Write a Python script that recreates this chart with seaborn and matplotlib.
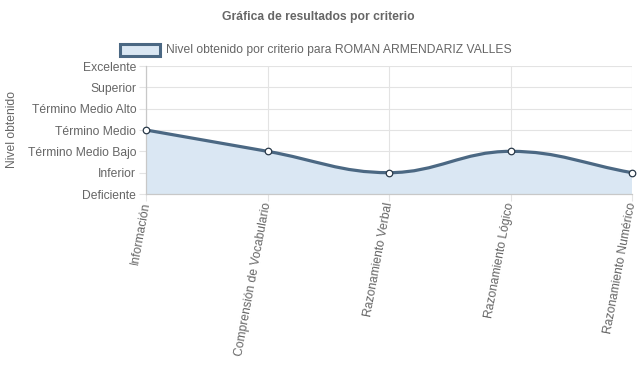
import matplotlib
matplotlib.use("Agg")
import matplotlib.pyplot as plt
from matplotlib.path import Path
from matplotlib.patches import PathPatch, Rectangle
import numpy as np
import pandas as pd
import seaborn as sns

categories = ["Información", "Comprensión de Vocabulario", "Razonamiento Verbal",
              "Razonamiento Lógico", "Razonamiento Numérico"]
levels = ["Deficiente", "Inferior", "Término Medio Bajo", "Término Medio",
          "Término Medio Alto", "Superior", "Excelente"]
values = [3, 2, 1, 2, 1]
series_name = "Nivel obtenido por criterio para ROMAN ARMENDARIZ VALLES"
title = "Gráfica de resultados por criterio"
ylabel = "Nivel obtenido"

sns.set_theme(style="white")
plt.rcParams['font.family'] = ['Liberation Sans', 'DejaVu Sans']

W, H = 637, 389
fig = plt.figure(figsize=(W / 100, H / 100), dpi=100)
x0, x1, yt, yb = 146, 632, 66, 194
ax = fig.add_axes([x0 / W, 1 - yb / H, (x1 - x0) / W, (yb - yt) / H])

line_c = "#4b6883"
fill_c = "#dae7f3"
grid_c = "#e3e3e3"
txt_c = "#666666"

df = pd.DataFrame({"x": np.arange(len(categories)), "y": values})
ax.set_xlim(0, len(categories) - 1)
ax.set_ylim(0, len(levels) - 1)

# Chart.js style bezier spline (tension 0.4) in pixel space
fig.canvas.draw()
pts = ax.transData.transform(np.column_stack([df["x"], df["y"]]).astype(float))
t = 0.4
n = len(pts)
cps_prev, cps_next = [], []
for i in range(n):
    p = pts[i - 1] if i > 0 else pts[i]
    c = pts[i]
    nx = pts[i + 1] if i < n - 1 else pts[i]
    d01 = np.hypot(*(c - p))
    d12 = np.hypot(*(nx - c))
    tot = d01 + d12
    s01 = d01 / tot if tot else 0
    s12 = d12 / tot if tot else 0
    fa, fb = t * s01, t * s12
    cps_prev.append(c - fa * (nx - p))
    cps_next.append(c + fb * (nx - p))
verts = [pts[0]]
codes = [Path.MOVETO]
for i in range(n - 1):
    verts += [cps_next[i], cps_prev[i + 1], pts[i + 1]]
    codes += [Path.CURVE4] * 3
inv = ax.transData.inverted()
verts_d = inv.transform(np.array(verts))
curve = Path(verts_d, codes)
fill_verts = np.vstack([verts_d, [[verts_d[-1][0], 0], [verts_d[0][0], 0], [verts_d[0][0], 0]]])
fill_codes = codes + [Path.LINETO, Path.LINETO, Path.CLOSEPOLY]
ax.add_patch(PathPatch(Path(fill_verts, fill_codes), facecolor=fill_c, edgecolor="none", zorder=1))
ax.add_patch(PathPatch(curve, facecolor="none", edgecolor=line_c, lw=2.3, zorder=3, clip_on=False))
sns.scatterplot(data=df, x="x", y="y", ax=ax, s=22, color="white", edgecolor="#2a3a4a",
                linewidth=0.9, zorder=4, clip_on=False, legend=False)

ax.set_xticks(range(len(categories)))
ax.set_xticklabels(categories, rotation=79.5, ha="right", va="center",
                   rotation_mode="anchor")
ax.set_yticks(range(len(levels)))
ax.set_yticklabels(levels)
ax.tick_params(axis="both", length=5, width=0.8, color=grid_c, labelcolor=txt_c,
               labelsize=8.7, pad=2, direction="out", bottom=True, left=True)
ax.tick_params(axis="x", pad=1)
ax.grid(True, color=grid_c, lw=0.8)
ax.set_axisbelow(True)
for s in ["top", "right"]:
    ax.spines[s].set_visible(False)
ax.spines["left"].set_color("#c8c8c8")
ax.spines["bottom"].set_color("#c8c8c8")
ax.spines["left"].set_linewidth(0.9)
ax.spines["bottom"].set_linewidth(0.9)
ax.set_xlabel("")
ax.set_ylabel("")

fig.text(12 / W, 1 - 130 / H, ylabel, rotation=90, ha="center", va="center",
         color=txt_c, fontsize=8.7)
fig.text(318 / W, 1 - 17 / H, title, ha="center", va="center", color=txt_c,
         fontsize=8.7, fontweight="bold")
fig.patches.append(Rectangle((120 / W, 1 - 56 / H), 40 / W, 12 / H, transform=fig.transFigure,
                             facecolor=fill_c, edgecolor=line_c, lw=2.2))
fig.text(166 / W, 1 - 49.5 / H, series_name, ha="left", va="center", color=txt_c, fontsize=8.7)

fig.savefig("out.png", dpi=100)
